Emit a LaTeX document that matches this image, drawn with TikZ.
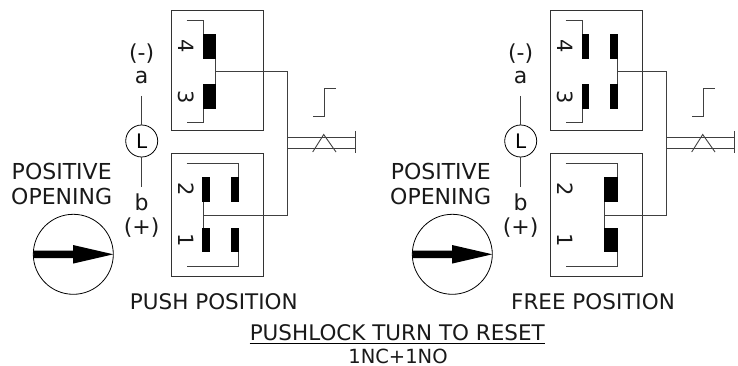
\documentclass[tikz,border=0pt]{standalone}
\usepackage{fontspec}
\setmainfont{DejaVu Sans}
\tikzset{
  ln/.style={draw=black!75,line width=0.9pt},
  boxln/.style={draw=black!80,line width=1pt},
  block/.style={fill=black,draw=none},
  lbl/.style={inner sep=0pt,font=\fontsize{22}{24}\selectfont,text=black!90},
  num/.style={inner sep=0pt,rotate=-90,font=\fontsize{21}{24}\selectfont,text=black!90},
  captxt/.style={inner sep=0pt,font=\fontsize{21.5}{24}\selectfont,text=black!90},
  smalltxt/.style={inner sep=0pt,font=\fontsize{19.5}{22}\selectfont,text=black!90},
}
\begin{document}
\begin{tikzpicture}[x=1pt,y=-1pt]
\useasboundingbox (0,0) rectangle (738,366);
% Common parts of both units
\foreach \dx/\tpos in {0/l,379/r}{
\begin{scope}[xshift=\dx pt]
  \draw[boxln] (171,10.5) rectangle (263.5,131);
  \draw[boxln] (171,154) rectangle (263.5,276);
  \draw[ln] (186.5,20)--(203,20)--(203,34);
  \draw[ln] (203,109)--(203,122.7)--(186.5,122.7);
  \draw[ln] (186.5,163.3)--(238.5,163.3)--(238.5,177);
  \draw[ln] (238.5,252)--(238.5,266.3)--(186.5,266.3);
  \node[num] at (186.5,46) {4};
  \node[num] at (186.5,97) {3};
  \node[num] at (186.5,189.5) {2};
  \node[num] at (186.5,240) {1};
  % lamp
  \node[draw=black,line width=0.8pt,circle,minimum size=32pt,inner sep=0pt,font=\fontsize{20}{22}\selectfont] (lamp\tpos) at (141.7,141) {L};
  \coordinate (lt\tpos) at (141.7,96);
  \coordinate (lb\tpos) at (141.7,187);
  \draw[ln] (lt\tpos)--(lamp\tpos);
  \draw[ln] (lamp\tpos)--(lb\tpos);
  \node[lbl] at (141.7,54) {(-)};
  \node[lbl] at (141.7,77) {a};
  \node[lbl] at (141.7,202) {b};
  \node[lbl] at (141.7,228) {(+)};
  \node[lbl] at (61.7,171) {POSITIVE};
  \node[lbl] at (61.7,196.5) {OPENING};
  % dial
  \draw[black,line width=0.8pt] (73.3,254.3) circle (40);
  \fill[black] (33.3,250.5)--(73,250.5)--(73,245)--(113.3,254.3)--(73,263.6)--(73,258.2)--(33.3,258.2)--cycle;
  % actuator
  \draw[ln] (287,137)--(355,137);
  \draw[ln] (287,148.5)--(355,148.5);
  \draw[ln] (355,131)--(355,153.5);
  \draw[ln] (312.7,152)--(323.7,134.5)--(336,152);
  \draw[ln] (313,116.3)--(324,116.3)--(324,88)--(335.7,88);
\end{scope}}
% Left unit: push position
\fill[block] (202.7,33.7) rectangle (215.7,58.7);
\fill[block] (202.7,84) rectangle (215.7,109);
\draw[ln] (215.2,58.7)--(215.2,84);
\draw[ln] (215.2,71)--(287,71)--(287,215)--(203,215);
\draw[ln] (203,202)--(203,228);
\fill[block] (202.3,177) rectangle (209.7,202.3);
\fill[block] (202.3,227.7) rectangle (209.7,252.3);
\fill[block] (231.3,177) rectangle (239,202.3);
\fill[block] (231.3,227.7) rectangle (239,252.3);
\node[captxt] at (213.8,302) {PUSH POSITION};
% Right unit: free position
\fill[block] (581.7,33.7) rectangle (588.7,58.7);
\fill[block] (581.7,84) rectangle (588.7,109);
\fill[block] (610.3,33.7) rectangle (617.7,58.7);
\fill[block] (610.3,84) rectangle (617.7,109);
\draw[ln] (617,58.7)--(617,84);
\draw[ln] (617,71)--(666,71)--(666,215)--(604.7,215);
\draw[ln] (604.7,202)--(604.7,228);
\fill[block] (604,177) rectangle (618,202.3);
\fill[block] (604,227.7) rectangle (618,252.3);
\node[captxt] at (593,302) {FREE POSITION};
% Title
\node[captxt] (title) at (397.3,332.7) {PUSHLOCK TURN TO RESET};
\draw[black,line width=0.8pt] (title.west |- 0,343.3) -- (title.east |- 0,343.3);
\node[smalltxt] at (398,356.3) {1NC+1NO};
\end{tikzpicture}
\end{document}
